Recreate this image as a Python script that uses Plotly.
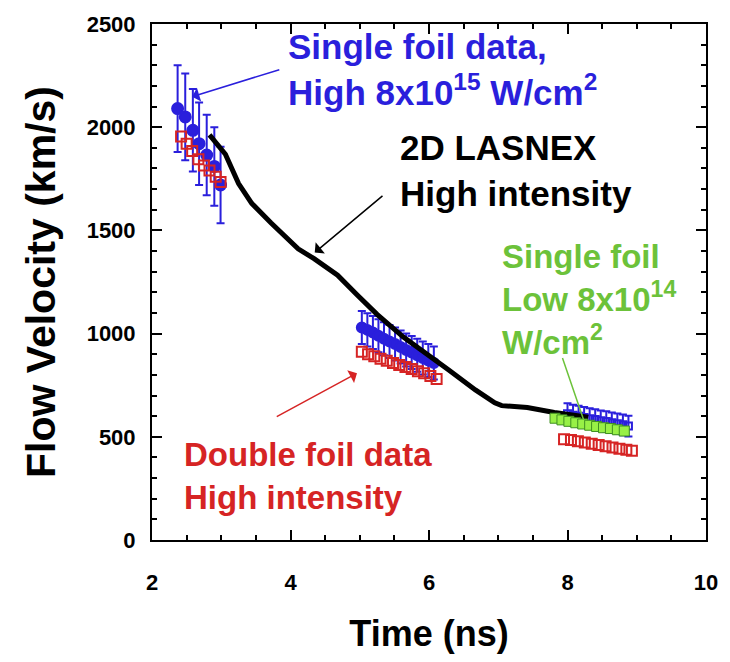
import plotly.graph_objects as go

# ---- data ----
# Single foil, high intensity (blue)
blue_t1 = [2.37, 2.48, 2.59, 2.68, 2.79, 2.90, 2.99]
blue_v1 = [2090, 2050, 1985, 1920, 1865, 1810, 1720]
blue_e1 = [210, 210, 200, 200, 195, 190, 185]

blue_t2 = [5.03, 5.11, 5.19, 5.27, 5.35, 5.43, 5.51, 5.59, 5.67, 5.75, 5.83, 5.91, 5.99, 6.07]
blue_v2 = [1030, 1018, 1005, 990, 975, 962, 950, 935, 920, 908, 895, 882, 870, 858]
blue_e2 = [80, 80, 80, 80, 80, 80, 80, 80, 80, 80, 80, 80, 80, 80]

blue_t3 = [8.00, 8.08, 8.16, 8.24, 8.32, 8.40, 8.48, 8.56, 8.64, 8.72, 8.80, 8.88]
blue_v3 = [612, 605, 600, 594, 588, 584, 578, 574, 568, 563, 558, 552]
blue_e3 = [50, 50, 50, 50, 50, 50, 50, 50, 50, 50, 50, 50]

# Double foil, high intensity (red)
red_t1 = [2.42, 2.50, 2.58, 2.67, 2.75, 2.83, 2.92, 2.99]
red_v1 = [1955, 1920, 1885, 1845, 1815, 1790, 1760, 1735]
red_t2 = [5.03, 5.12, 5.21, 5.30, 5.39, 5.48, 5.57, 5.66, 5.75, 5.84, 5.93, 6.02, 6.11]
red_v2 = [912, 900, 890, 878, 868, 858, 848, 838, 828, 818, 808, 795, 780]
red_t3 = [7.95, 8.05, 8.15, 8.25, 8.35, 8.45, 8.55, 8.65, 8.75, 8.85, 8.93]
red_v3 = [488, 484, 478, 472, 466, 460, 454, 448, 442, 437, 432]

# Single foil, low intensity (green)
green_t = [7.82, 7.92, 8.02, 8.12, 8.22, 8.32, 8.42, 8.52, 8.62, 8.72, 8.82]
green_v = [590, 582, 575, 568, 562, 556, 550, 544, 540, 534, 528]

# 2D LASNEX simulation (black)
sim_t = [2.83, 3.06, 3.25, 3.44, 3.72, 4.11, 4.34, 4.68, 4.96, 5.25, 5.63, 6.00,
         6.29, 6.67, 6.95, 7.05, 7.42, 7.81, 8.00, 8.30]
sim_v = [1963, 1869, 1727, 1631, 1536, 1411, 1363, 1283, 1188, 1093, 983, 889,
         822, 727, 665, 651, 642, 618, 608, 595]

x_ticks = [2, 4, 6, 8, 10]
y_ticks = [0, 500, 1000, 1500, 2000, 2500]

BLUE = "#2a1fdc"
RED = "#d62424"
GREEN_TXT = "#6cc23a"
GREEN_FILL = "#98f046"
FONT = "Liberation Sans"

fig = go.Figure()

def blue_trace(t, v, e, sym, size):
    fig.add_trace(go.Scatter(
        x=t, y=v, mode="markers",
        marker=dict(symbol=sym, size=size, color=BLUE, line=dict(color=BLUE, width=2)),
        error_y=dict(type="data", array=e, visible=True, color=BLUE, thickness=2, width=4),
    ))

blue_trace(blue_t1, blue_v1, blue_e1, "circle", 11)
blue_trace(blue_t2, blue_v2, blue_e2, "circle", 10)
blue_trace(blue_t3, blue_v3, blue_e3, "square-open", 7)

for t, v in [(red_t1, red_v1), (red_t2, red_v2), (red_t3, red_v3)]:
    fig.add_trace(go.Scatter(
        x=t, y=v, mode="markers",
        marker=dict(symbol="square-open", size=10, color=RED, line=dict(color=RED, width=2)),
    ))

fig.add_trace(go.Scatter(x=sim_t, y=sim_v, mode="lines",
                         line=dict(color="black", width=5)))

fig.add_trace(go.Scatter(
    x=green_t, y=green_v, mode="markers",
    marker=dict(symbol="square", size=10, color=GREEN_FILL, line=dict(color="#3f8f22", width=1)),
))

def text_ann(txt, x, y, color, size=35):
    fig.add_annotation(x=x, y=y, xref="x", yref="y", text=txt, showarrow=False,
                       xanchor="left", yanchor="middle", align="left",
                       font=dict(family=FONT, size=size, weight="bold", color=color))

def arrow(x, y, ax, ay, color, head=1):
    fig.add_annotation(x=x, y=y, ax=ax, ay=ay, xref="x", yref="y", axref="x", ayref="y",
                       text="", showarrow=True, arrowhead=head, arrowsize=1.6,
                       arrowwidth=1.5, arrowcolor=color)

text_ann("Single foil data,<br>High 8x10<sup>15</sup> W/cm<sup>2</sup>", 3.94, 2281, BLUE)
text_ann("2D LASNEX<br>High intensity", 5.55, 1792, "black")
text_ann("Single foil<br>Low 8x10<sup>14</sup><br>W/cm<sup>2</sup>", 7.03, 1165, GREEN_TXT, 33)
text_ann("Double foil data<br>High intensity", 2.44, 312, RED, 33)

arrow(2.58, 2148, 3.86, 2281, BLUE)
arrow(4.35, 1393, 5.35, 1673, "black")
arrow(4.96, 808, 3.78, 594, RED)
arrow(8.23, 585, 7.92, 889, GREEN_TXT, head=0)

axis_common = dict(
    showline=True, linewidth=2, linecolor="black", mirror="ticks",
    ticks="inside", ticklen=10, tickwidth=2, tickcolor="black",
    showgrid=False, zeroline=False,
    tickfont=dict(family=FONT, size=22, color="black", weight="bold"),
)

fig.update_xaxes(range=[2, 10], tickvals=x_ticks, ticktext=[str(v) for v in x_ticks],
                 minor=dict(dtick=0.5, ticks="inside", ticklen=5, tickwidth=2, tickcolor="black"),
                 ticklabelstandoff=22,
                 title=dict(text="Time (ns)", standoff=26,
                            font=dict(family=FONT, size=36, color="black", weight="bold")),
                 **axis_common)
fig.update_yaxes(range=[0, 2500], tickvals=y_ticks, ticktext=[str(v) for v in y_ticks],
                 minor=dict(dtick=100, ticks="inside", ticklen=5, tickwidth=2, tickcolor="black"),
                 ticklabelstandoff=10,
                 title=dict(text="Flow Velocity (km/s)", standoff=18,
                            font=dict(family=FONT, size=41, color="black", weight="bold")),
                 **axis_common)

fig.update_layout(width=730, height=662, margin=dict(l=152, r=12, t=14, b=122),
                  plot_bgcolor="white", paper_bgcolor="white", showlegend=False)

fig.write_html("out.html")
